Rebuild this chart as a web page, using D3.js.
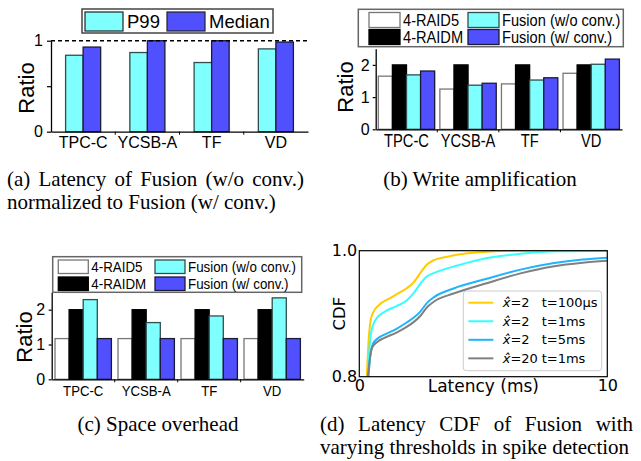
<!DOCTYPE html>
<html>
<head>
<meta charset="utf-8">
<script src="https://cdn.jsdelivr.net/npm/d3@7"></script>
<style>
  body { margin: 0; background: #fff; }
  .cap { font-family: "Liberation Serif", serif; font-size: 21px; fill: #000; }
</style>
</head>
<body>
<script>
// categories shared by the three bar charts
var cats = ["TPC-C", "YCSB-A", "TF", "VD"];

// (a) latency of Fusion (w/o conv.) normalized to Fusion (w/ conv.)
var latP99 = [0.84, 0.87, 0.76, 0.91];
var latMedian = [0.93, 1.0, 1.0, 0.985];

// (b) write amplification
var waRaid5 = [1.65, 1.25, 1.41, 1.74];
var waRaidM = [2.0, 2.0, 2.0, 2.0];
var waFusionWo = [1.69, 1.37, 1.53, 2.02];
var waFusionW = [1.81, 1.43, 1.60, 2.18];

// (c) space overhead
var spRaid5 = [1.17, 1.17, 1.17, 1.17];
var spRaidM = [2.0, 2.0, 2.0, 2.0];
var spFusionWo = [2.29, 1.63, 1.82, 2.34];
var spFusionW = [1.17, 1.17, 1.17, 1.17];

// (d) latency CDF, [latency ms, cdf]
var cdfT100us = [[0.27,0.78],[0.30,0.80],[0.38,0.86],[0.46,0.89],[0.56,0.902],[0.8,0.914],[1.2,0.924],[1.6,0.933],[1.9,0.940],[2.2,0.950],[2.45,0.964],[2.7,0.977],[3.0,0.985],[3.5,0.990],[4.0,0.994],[5.0,0.998],[6.0,1.0],[10,1.0]];
var cdfT1ms = [[0.30,0.78],[0.34,0.80],[0.42,0.85],[0.50,0.875],[0.65,0.89],[0.97,0.902],[1.5,0.912],[1.91,0.921],[2.2,0.933],[2.45,0.947],[2.72,0.959],[3.1,0.966],[4.0,0.977],[5.1,0.988],[6.5,0.995],[8.0,0.999],[10,1.0]];
var cdfT5ms = [[0.33,0.78],[0.37,0.80],[0.45,0.835],[0.55,0.852],[0.75,0.861],[0.97,0.866],[1.5,0.876],[1.91,0.886],[2.2,0.894],[2.45,0.903],[2.75,0.918],[3.0,0.926],[3.8,0.940],[5.1,0.955],[6.5,0.970],[7.8,0.980],[9,0.986],[10,0.989]];
var cdfX20 = [[0.31,0.78],[0.35,0.80],[0.43,0.83],[0.53,0.847],[0.75,0.856],[0.97,0.861],[1.5,0.870],[1.91,0.879],[2.2,0.887],[2.45,0.896],[2.75,0.911],[3.0,0.919],[3.8,0.932],[5.1,0.948],[6.5,0.964],[7.8,0.975],[9,0.981],[10,0.984]];

var cdfNames = [["2", "t=100\u03bcs"], ["2", "t=1ms"], ["2", "t=5ms"], ["20", "t=1ms"]];
var cdfColors = ["#ffcc00", "#33ffff", "#1eb4ff", "#808080"];

var CYAN = "#80ffff", BLUE = "#5050ff";

var svg = d3.select("body").append("svg")
    .attr("width", 641)
    .attr("height", 461);

function txt(g, x, y, s, size, sx, anchor) {
  return g.append("text")
      .attr("transform", "translate(" + x + "," + y + ") scale(" + (sx || 1) + ",1)")
      .attr("font-family", "Liberation Sans, Arial, sans-serif")
      .attr("font-size", size)
      .attr("text-anchor", anchor || "start")
      .text(s);
}

function barPanel(o) {
  var g = svg.append("g");
  var x = d3.scaleBand().domain(cats).range([o.x0, o.x1]);
  var y = d3.scaleLinear().domain(o.yDomain).range([o.yBottom, o.yTop]);
  var x1 = d3.scaleBand().domain(o.series.map(function(s) { return s.name; }))
      .range([o.pad, x.step() - o.pad]);

  o.series.forEach(function(s) {
    g.selectAll(null).data(s.values).enter().append("rect")
        .attr("x", function(d, i) { return x(cats[i]) + x1(s.name); })
        .attr("y", function(d) { return y(d); })
        .attr("width", x1.bandwidth())
        .attr("height", function(d) { return y(0) - y(d); })
        .attr("fill", s.fill)
        .attr("stroke", s.stroke)
        .attr("stroke-width", 1.3);
  });

  var ya = g.append("g").attr("transform", "translate(" + o.x0 + ",0)")
      .call(d3.axisLeft(y).tickValues(o.yTicks).tickSize(o.tickLen).tickSizeOuter(0)
            .tickPadding(o.tickPad).tickFormat(o.fmt));
  ya.selectAll("text").attr("font-family", "Liberation Sans, Arial, sans-serif")
      .attr("font-size", 16).attr("fill", "#000");

  var xa = g.append("g").attr("transform", "translate(0," + y(0) + ")")
      .call(d3.axisBottom(x).tickSize(0).tickSizeOuter(0).tickPadding(o.xPad));
  xa.selectAll("text").attr("font-family", "Liberation Sans, Arial, sans-serif")
      .attr("font-size", o.xFont).attr("fill", "#000")
      .attr("transform", "scale(" + o.sx + ",1)");
  g.selectAll(".domain").attr("stroke", "#000").attr("stroke-width", 1.3);
  g.selectAll(".tick line").attr("stroke", "#000").attr("stroke-width", 1.2);

  // small ticks between groups
  g.selectAll(null).data(cats.slice(1)).enter().append("line")
      .attr("x1", function(d) { return x(d); })
      .attr("x2", function(d) { return x(d); })
      .attr("y1", y(0)).attr("y2", y(0) + 3)
      .attr("stroke", "#000").attr("stroke-width", 1);

  g.append("text")
      .attr("transform", "translate(" + o.labX + "," + o.labY + ") rotate(-90)")
      .attr("text-anchor", "middle")
      .attr("font-family", "Liberation Sans, Arial, sans-serif")
      .attr("font-size", 22)
      .text("Ratio");

  return { g: g, x: x, y: y };
}

// ---------- (a)
var pa = barPanel({
  x0: 51, x1: 308, yBottom: 131.7, yTop: 40.7, yDomain: [0, 1], pad: 14.6,
  yTicks: [0, 0.5, 1], tickLen: 4, tickPad: 4,
  fmt: function(d) { return d === 0.5 ? "" : d; },
  xFont: 16, xPad: 5, sx: 1, labX: 33.5, labY: 88,
  series: [
    { name: "P99", values: latP99, fill: CYAN, stroke: "#2f4f4f" },
    { name: "Median", values: latMedian, fill: BLUE, stroke: "#1a1a3a" }
  ]
});
pa.g.append("line")
    .attr("x1", 51).attr("x2", 308)
    .attr("y1", pa.y(1)).attr("y2", pa.y(1))
    .attr("stroke", "#000").attr("stroke-width", 1.5)
    .attr("stroke-dasharray", "4,3");

// legend (a)
pa.g.append("rect").attr("x", 82).attr("y", 9).attr("width", 191).attr("height", 24)
    .attr("fill", "#fff").attr("stroke", "#444").attr("stroke-width", 1.5);
[["P99", CYAN, 85], ["Median", BLUE, 167]].forEach(function(e) {
  pa.g.append("rect").attr("x", e[2]).attr("y", 12).attr("width", 38).attr("height", 19)
      .attr("fill", e[1]).attr("stroke", "#222").attr("stroke-width", 1.2);
  txt(pa.g, e[2] + 42, 28, e[0], 18.5, 1);
});

// ---------- (b)
var pb = barPanel({
  x0: 375.7, x1: 622, yBottom: 129.3, yTop: 48.8, yDomain: [0, 2.5], pad: 2.6,
  yTicks: [0, 1, 2], tickLen: 3, tickPad: 3,
  fmt: d3.format("d"),
  xFont: 17.5, xPad: 5, sx: 0.84, labX: 353, labY: 87,
  series: [
    { name: "RAID5", values: waRaid5, fill: "#fff", stroke: "#777" },
    { name: "RAIDM", values: waRaidM, fill: "#000", stroke: "#000" },
    { name: "Wo", values: waFusionWo, fill: CYAN, stroke: "#2f4f4f" },
    { name: "W", values: waFusionW, fill: BLUE, stroke: "#1a1a3a" }
  ]
});

function legend4(g, box, cols, rows, font, sx) {
  g.append("rect").attr("x", box[0]).attr("y", box[1]).attr("width", box[2]).attr("height", box[3])
      .attr("fill", "#fff").attr("stroke", "#666").attr("stroke-width", 1.5);
  var items = [
    ["4-RAID5", "#fff", "#777", 0, 0], ["4-RAIDM", "#000", "#000", 0, 1],
    ["Fusion (w/o conv.)", CYAN, "#2f4f4f", 1, 0], ["Fusion (w/ conv.)", BLUE, "#1a1a3a", 1, 1]
  ];
  items.forEach(function(it) {
    var px = cols[it[3]], py = rows[it[4]];
    g.append("rect").attr("x", px).attr("y", py).attr("width", cols[2]).attr("height", rows[2])
        .attr("fill", it[1]).attr("stroke", it[2]).attr("stroke-width", 1.3);
    txt(g, px + cols[2] + 3, py + rows[2] - 1.5, it[0], font, sx);
  });
}
legend4(pb.g, [358.3, 9.3, 265, 37.4], [369, 468, 31], [12.5, 29.5, 15], 17, 0.86);

// ---------- (c)
var pc = barPanel({
  x0: 51.7, x1: 303.7, yBottom: 379.3, yTop: 292.3, yDomain: [0, 2.5], pad: 3.3,
  yTicks: [0, 1, 2], tickLen: 3, tickPad: 3.5,
  fmt: d3.format("d"),
  xFont: 15.5, xPad: 5.5, sx: 0.85, labX: 32, labY: 337,
  series: [
    { name: "RAID5", values: spRaid5, fill: "#fff", stroke: "#777" },
    { name: "RAIDM", values: spRaidM, fill: "#000", stroke: "#000" },
    { name: "Wo", values: spFusionWo, fill: CYAN, stroke: "#2f4f4f" },
    { name: "W", values: spFusionW, fill: BLUE, stroke: "#1a1a3a" }
  ]
});
legend4(pc.g, [52.7, 256.7, 249, 35.6], [58.3, 155, 30], [260, 277, 13.5], 15, 0.89);

// ---------- (d)
var gd = svg.append("g");
var xd = d3.scaleLinear().domain([0, 10]).range([359.3, 607.3]);
var yd = d3.scaleLinear().domain([0.8, 1.0]).range([376.7, 250.7]);

svg.append("clipPath").attr("id", "clipd").append("rect")
    .attr("x", xd(0)).attr("y", yd(1.0) - 1)
    .attr("width", xd(10) - xd(0)).attr("height", yd(0.8) - yd(1.0) + 1);

var line = d3.line()
    .x(function(d) { return xd(d[0]); })
    .y(function(d) { return yd(d[1]); })
    .curve(d3.curveMonotoneX);

[cdfT100us, cdfT1ms, cdfT5ms, cdfX20].forEach(function(c, i) {
  gd.append("path").datum(c)
      .attr("d", line)
      .attr("fill", "none")
      .attr("stroke", cdfColors[i])
      .attr("stroke-width", 2)
      .attr("clip-path", "url(#clipd)");
});

gd.append("rect")
    .attr("x", xd(0)).attr("y", yd(1.0))
    .attr("width", xd(10) - xd(0)).attr("height", yd(0.8) - yd(1.0))
    .attr("fill", "none").attr("stroke", "#000").attr("stroke-width", 1.2);

var axd = gd.append("g").attr("transform", "translate(" + xd(0) + ",0)")
    .call(d3.axisLeft(yd).tickValues([0.8, 1.0]).tickSize(0).tickPadding(2).tickFormat(d3.format(".1f")));
var bxd = gd.append("g").attr("transform", "translate(0," + yd(0.8) + ")")
    .call(d3.axisBottom(xd).tickValues([0, 10]).tickSize(0).tickPadding(3).tickFormat(d3.format("d")));
[axd, bxd].forEach(function(a) {
  a.select(".domain").remove();
  a.selectAll("text").attr("font-family", "DejaVu Sans, sans-serif")
      .attr("font-size", 16).attr("fill", "#000");
});

gd.append("text")
    .attr("transform", "translate(345," + (yd(0.9)) + ") rotate(-90)")
    .attr("text-anchor", "middle")
    .attr("font-family", "DejaVu Sans, sans-serif").attr("font-size", 16.5)
    .text("CDF");
gd.append("text")
    .attr("x", (xd(0) + xd(10)) / 2).attr("y", 392)
    .attr("text-anchor", "middle")
    .attr("font-family", "DejaVu Sans, sans-serif").attr("font-size", 17)
    .text("Latency (ms)");

// legend (d)
gd.append("rect").attr("x", 463.3).attr("y", 291).attr("width", 138.4).attr("height", 79.7)
    .attr("rx", 3).attr("fill", "#fff").attr("fill-opacity", 0.85)
    .attr("stroke", "#cccccc").attr("stroke-width", 1);
cdfNames.forEach(function(n, i) {
  var cy = 302.7 + i * 18.55;
  gd.append("line").attr("x1", 468.3).attr("x2", 493.3).attr("y1", cy).attr("y2", cy)
      .attr("stroke", cdfColors[i]).attr("stroke-width", 2);
  var t = gd.append("text").attr("x", 502.7).attr("y", cy + 4.6)
      .attr("font-family", "DejaVu Sans, sans-serif").attr("font-size", 13);
  t.append("tspan").attr("font-style", "italic").text("x\u0302");
  t.append("tspan").text("=" + n[0]);
  gd.append("text").attr("x", 541.7).attr("y", cy + 4.6)
      .attr("font-family", "DejaVu Sans, sans-serif").attr("font-size", 13)
      .text(n[1]);
});

// ---------- captions
function justifyLine(str, x0, x1, y) {
  var words = str.split(" ");
  var ws = words.map(function(w) {
    var t = svg.append("text").attr("class", "cap").text(w);
    var l = t.node().getComputedTextLength();
    t.remove();
    return l;
  });
  var gap = (x1 - x0 - d3.sum(ws)) / (words.length - 1);
  var cx = x0;
  words.forEach(function(w, i) {
    svg.append("text").attr("class", "cap").attr("x", cx).attr("y", y).text(w);
    cx += ws[i] + gap;
  });
}
function plainLine(str, x, y, anchor) {
  svg.append("text").attr("class", "cap").attr("x", x).attr("y", y)
      .attr("text-anchor", anchor || "start").text(str);
}

justifyLine("(a) Latency of Fusion (w/o conv.)", 7, 304, 186);
plainLine("normalized to Fusion (w/ conv.)", 7, 209);
plainLine("(b) Write amplification", 480, 186, "middle");
plainLine("(c) Space overhead", 158, 431, "middle");
justifyLine("(d) Latency CDF of Fusion with", 320, 633, 431);
plainLine("varying thresholds in spike detection", 320, 454);
</script>
</body>
</html>
